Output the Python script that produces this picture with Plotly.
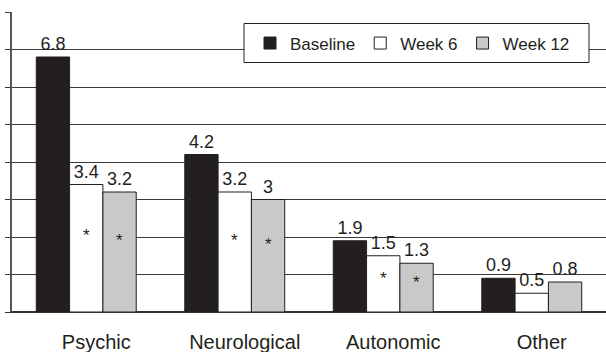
import plotly.graph_objects as go

categories = ["Psychic", "Neurological", "Autonomic", "Other"]
baseline = [6.8, 4.2, 1.9, 0.9]
week6 = [3.4, 3.2, 1.5, 0.5]
week12 = [3.2, 3.0, 1.3, 0.8]
labels6 = ["3.4", "3.2", "1.5", "0.5"]
labels12 = ["3.2", "3", "1.3", "0.8"]
labelsb = ["6.8", "4.2", "1.9", "0.9"]
significant6 = [True, True, True, False]
significant12 = [True, True, True, False]

FONT = "Liberation Sans, Arial, sans-serif"
INK = "#231f20"
BARGAP = 0.327

fig = go.Figure()
series = [
    ("Baseline", baseline, labelsb, INK),
    ("Week 6", week6, labels6, "#ffffff"),
    ("Week 12", week12, labels12, "#c9c9c9"),
]
for name, vals, labs, col in series:
    fig.add_trace(go.Bar(
        name=name, x=categories, y=vals, text=labs,
        textposition="outside", constraintext="none", cliponaxis=False,
        textfont=dict(family=FONT, size=18, color=INK),
        marker=dict(color=col, line=dict(color=INK, width=1)),
    ))

# asterisks inside week 6 / week 12 bars
bw = (1 - BARGAP) / 3
for i, cat in enumerate(categories):
    for flag, vals, off in ((significant6[i], week6, 0.0), (significant12[i], week12, bw)):
        if flag:
            fig.add_annotation(x=i + off, y=vals[i] * 0.6, text="*", showarrow=False,
                               xref="x", yref="y", yanchor="middle",
                               font=dict(family=FONT, size=17, color=INK))

# legend frame
fig.add_shape(type="rect", xref="paper", yref="paper",
              x0=(244 - 12) / 594, x1=(589 - 12) / 594,
              y0=(312.5 - 63) / 300, y1=(312.5 - 24) / 300,
              line=dict(color=INK, width=1), fillcolor="white", layer="above")

fig.update_layout(
    width=606, height=352,
    margin=dict(l=12, r=0, t=12, b=40),
    plot_bgcolor="white", paper_bgcolor="white",
    barmode="group", bargap=BARGAP, bargroupgap=0,
    font=dict(family=FONT, size=17, color=INK),
    showlegend=True,
    legend=dict(orientation="h", x=(250 - 12) / 594, xanchor="left",
                y=(312.5 - 44) / 300, yanchor="middle",
                bgcolor="rgba(0,0,0,0)", borderwidth=0,
                font=dict(family=FONT, size=17, color=INK), traceorder="normal"),
    xaxis=dict(showgrid=False, showline=True, linecolor="#333333", linewidth=1,
               ticks="", ticklabelstandoff=12, ticklabelshift=10, automargin=False,
               tickfont=dict(family=FONT, size=20, color=INK)),
    yaxis=dict(range=[0, 8], dtick=1, showgrid=True, gridcolor="#3a3a3a", gridwidth=1,
               showline=True, linecolor="#555555", linewidth=1.5, automargin=False,
               ticks="outside", ticklen=5, tickcolor="#3a3a3a",
               showticklabels=False, zeroline=True, zerolinecolor="#333333"),
)

fig.write_html("out.html", config={"displayModeBar": False},
               post_script="document.body.style.margin='0';document.body.style.padding='0';")
